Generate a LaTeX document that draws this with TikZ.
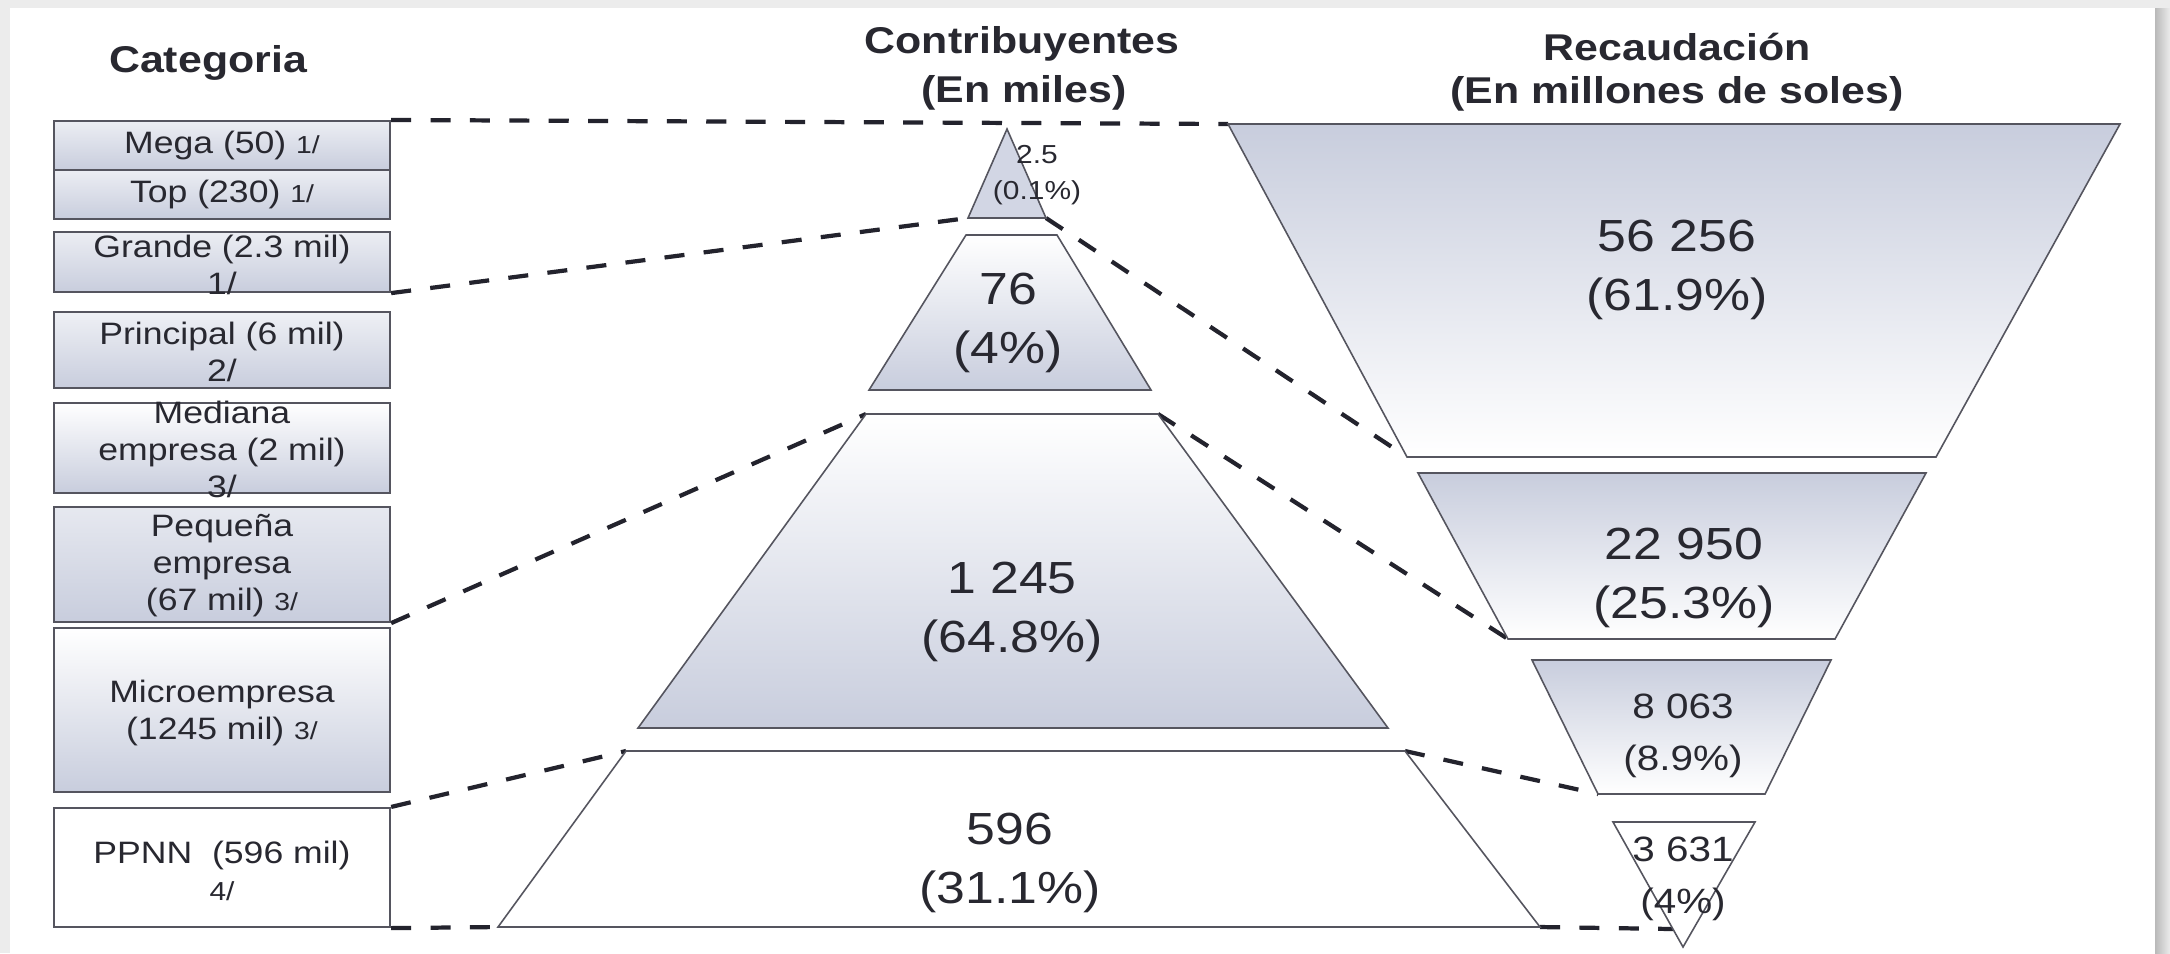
\documentclass[tikz,border=0pt]{standalone}
\usepackage{fontspec}
\setmainfont{Liberation Sans}[FakeStretch=1.15]
\definecolor{shadec}{RGB}{200,205,221}
\definecolor{edgec}{RGB}{85,85,95}
\definecolor{dashc}{RGB}{35,35,45}
\definecolor{txt}{RGB}{40,40,48}
\definecolor{framec}{RGB}{236,236,236}
\definecolor{tipc}{RGB}{210,214,228}
\begin{document}
\begin{tikzpicture}[x=0.01cm, y=-0.01cm,
  catbox/.style={draw=edgec, line width=0.6pt, inner sep=0pt, minimum width=3.36cm},
  catlabel/.style={font=\fontsize{8.8}{10.5}\selectfont, text=txt, align=center, inner sep=0pt},
  piece/.style={draw=edgec, line width=0.45pt, line join=miter},
  link/.style={draw=dashc, line width=1.2pt, dash pattern=on 5.7pt off 5.5pt},
  title/.style={font=\fontsize{10.6}{12}\selectfont\bfseries, text=txt, anchor=base, inner sep=0pt},
  bignum/.style={font=\fontsize{12.8}{16.6}\selectfont, text=txt, align=center, inner sep=0pt},
  smallnum/.style={font=\fontsize{10}{14.8}\selectfont, text=txt, align=center, inner sep=0pt},
  tinynum/.style={font=\fontsize{7.4}{10.2}\selectfont, text=txt, align=center, inner sep=0pt}]
\useasboundingbox (0,0) rectangle (2170,953);
% frame
\fill[framec] (0,0) rectangle (2170,953);
\fill[white] (10,8) rectangle (2155,953);
\shade[left color=gray!55, right color=framec] (2155,8) rectangle (2170,953);

% titles
\node[title] (tcat) at (208,72) {Categoria};
\node[title] (tcon1) at (1022,53) {Contribuyentes};
\node[title] (tcon2) at (1024,102) {(En miles)};
\node[title] (trec1) at (1677,60) {Recaudación};
\node[title] (trec2) at (1677,103) {(En millones de soles)};

% category boxes
\node[catbox, minimum height=0.49cm, top color=shadec!35, bottom color=shadec] (mega) at (222,145.5) {};
\node[catbox, minimum height=0.49cm, top color=shadec!35, bottom color=shadec] (top) at (222,194.5) {};
\node[catbox, minimum height=0.60cm, top color=shadec!35, bottom color=shadec] (grande) at (222,262) {};
\node[catbox, minimum height=0.76cm, top color=shadec!30, bottom color=shadec] (principal) at (222,350) {};
\node[catbox, minimum height=0.90cm, top color=white, bottom color=shadec] (mediana) at (222,448) {};
\node[catbox, minimum height=1.15cm, top color=shadec!45, bottom color=shadec] (pequena) at (222,564.5) {};
\node[catbox, minimum height=1.64cm, top color=white, bottom color=shadec] (micro) at (222,710) {};
\node[catbox, minimum height=1.19cm, fill=white] (ppnn) at (222,867.5) {};

\node[catlabel] (lmega) at (mega) {Mega (50) {\fontsize{7}{8}\selectfont 1/}};
\node[catlabel] (ltop) at (top) {Top (230) {\fontsize{7}{8}\selectfont 1/}};
\node[catlabel] (lgrande) at (222,265) {Grande (2.3 mil)\\1/};
\node[catlabel] (lprincipal) at (222,352) {Principal (6 mil)\\2/};
\node[catlabel] (lmediana) at (222,449) {Mediana\\empresa (2 mil)\\3/};
\node[catlabel] (lpequena) at (222,566) {Pequeña\\empresa\\(67 mil) {\fontsize{7}{8}\selectfont 3/}};
\node[catlabel] (lmicro) at (222,713) {Microempresa\\(1245 mil) {\fontsize{7}{8}\selectfont 3/}};
\node[catlabel] (lppnn) at (222,871) {PPNN\ \ (596 mil)\\{\fontsize{7.4}{8}\selectfont 4/}};

% centre pyramid corners
\coordinate (t1a) at (1007,129);
\coordinate (t1bl) at (968,218);
\coordinate (t1br) at (1046,218);
\coordinate (t2tl) at (966,235);
\coordinate (t2tr) at (1057,235);
\coordinate (t2bl) at (869,390);
\coordinate (t2br) at (1151,390);
\coordinate (t3tl) at (866,414);
\coordinate (t3tr) at (1158,414);
\coordinate (t3bl) at (638,728);
\coordinate (t3br) at (1388,728);
\coordinate (t4tl) at (626,751);
\coordinate (t4tr) at (1405,751);
\coordinate (t4bl) at (498,927);
\coordinate (t4br) at (1540,927);
% right inverted pyramid corners
\coordinate (r1tl) at (1228,124);
\coordinate (r1tr) at (2120,124);
\coordinate (r1bl) at (1407,457);
\coordinate (r1br) at (1936,457);
\coordinate (r2tl) at (1418,473);
\coordinate (r2tr) at (1926,473);
\coordinate (r2bl) at (1508,639);
\coordinate (r2br) at (1835,639);
\coordinate (r3tl) at (1532,660);
\coordinate (r3tr) at (1831,660);
\coordinate (r3bl) at (1598,794);
\coordinate (r3br) at (1765,794);
\coordinate (r4tl) at (1613,822);
\coordinate (r4tr) at (1755,822);
\coordinate (r4a) at (1683,947);
\coordinate (r4e) at (1673,929);

% dashed connectors
\draw[link] (mega.north east) -- (r1tl);
\draw[link] (grande.south east) -- (t1bl);
\draw[link] (pequena.south east) -- (t3tl);
\draw[link] (ppnn.north east) -- (t4tl);
\draw[link] (ppnn.south east) -- (t4bl);
\draw[link] (t1br) -- (r1bl);
\draw[link] (t3tr) -- (r2bl);
\draw[link] (t4tr) -- (r3bl);
\draw[link] (t4br) -- (r4e);

% centre pieces
\path[piece, fill=tipc] (t1a) -- (t1br) -- (t1bl) -- cycle;
\path[piece, top color=white, bottom color=shadec] (t2tl) -- (t2tr) -- (t2br) -- (t2bl) -- cycle;
\path[piece, top color=white, bottom color=shadec] (t3tl) -- (t3tr) -- (t3br) -- (t3bl) -- cycle;
\path[piece, fill=white] (t4tl) -- (t4tr) -- (t4br) -- (t4bl) -- cycle;
% right pieces
\path[piece, top color=shadec, bottom color=white] (r1tl) -- (r1tr) -- (r1br) -- (r1bl) -- cycle;
\path[piece, top color=shadec, bottom color=white] (r2tl) -- (r2tr) -- (r2br) -- (r2bl) -- cycle;
\path[piece, top color=shadec, bottom color=white] (r3tl) -- (r3tr) -- (r3br) -- (r3bl) -- cycle;
\path[piece, fill=white] (r4tl) -- (r4tr) -- (r4a) -- cycle;

% values
\node[tinynum] (v1) at (1037,175) {2.5\\(0.1\%)};
\node[bignum] (v2) at (1008,323) {76\\(4\%)};
\node[bignum] (v3) at (1012,612) {1 245\\(64.8\%)};
\node[bignum] (v4) at (1010,863) {596\\(31.1\%)};
\node[bignum] (v5) at (1677,270) {56 256\\(61.9\%)};
\node[bignum] (v6) at (1684,578) {22 950\\(25.3\%)};
\node[smallnum] (v7) at (1683,736) {8 063\\(8.9\%)};
\node[smallnum] (v8) at (1683,879) {3 631\\(4\%)};
\end{tikzpicture}
\end{document}
